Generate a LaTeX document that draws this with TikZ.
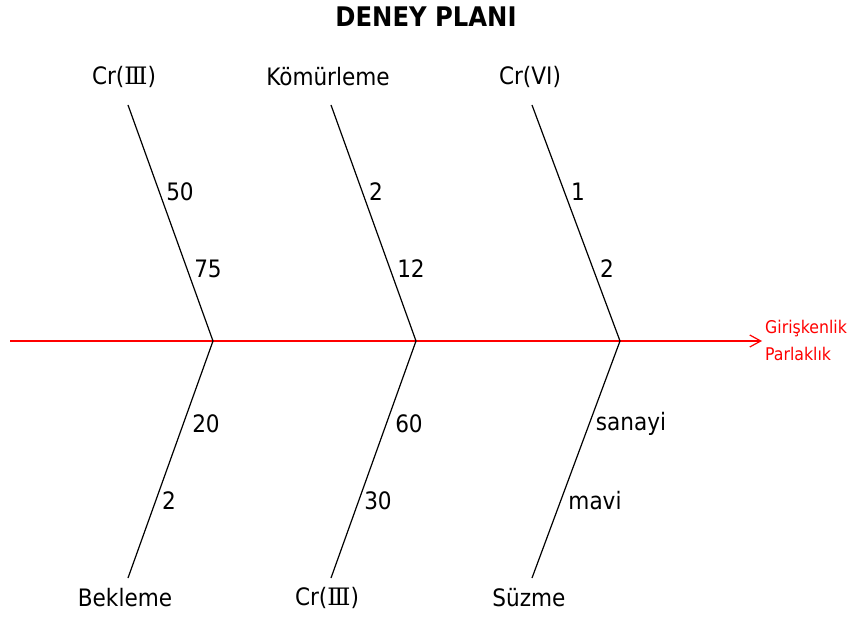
\documentclass[tikz,border=0pt]{standalone}
\usepackage{fontspec}
\setmainfont{DejaVu Sans Condensed}
\newfontfamily\romfont{DejaVu Serif}
\newcommand{\romIII}{{\romfont Ⅲ}}
\usetikzlibrary{arrows.meta}
\begin{document}
\begin{tikzpicture}[x=1pt,y=-1pt,
  lbl/.style={font=\fontsize{24}{28}\selectfont, inner sep=0pt, anchor=center},
  num/.style={font=\fontsize{24}{28}\selectfont, inner sep=0pt, anchor=center},
  bone/.style={draw=black, line width=1.2pt},
  spine/.style={draw=red, line width=1.2pt, -{Straight Barb[length=11pt,width=12pt]}},
  redlbl/.style={font=\fontsize{17.5}{20}\selectfont, text=red, inner sep=0pt, anchor=west}]
\useasboundingbox (0,0) rectangle (851,617);
\node[font=\fontsize{27}{32}\selectfont\bfseries, inner sep=0pt] (title) at (426,17) {DENEY PLANI};
% spine
\coordinate (s0) at (10,341);
\coordinate (s1) at (762,341);
\draw[spine] (s0) -- (s1);
\node[redlbl] (g1) at (765,329) {Girişkenlik};
\node[redlbl] (g2) at (765,354) {Parlaklık};
% joints
\coordinate (j1) at (213,341);
\coordinate (j2) at (416,341);
\coordinate (j3) at (620,341);
% top ends
\coordinate (t1) at (128,105);
\coordinate (t2) at (331,105);
\coordinate (t3) at (532,105);
% bottom ends
\coordinate (b1) at (128,578);
\coordinate (b2) at (331,578);
\coordinate (b3) at (532,578);
\draw[bone] (t1) -- (j1) -- (b1);
\draw[bone] (t2) -- (j2) -- (b2);
\draw[bone] (t3) -- (j3) -- (b3);
% category labels
\node[lbl] (c1) at (124,77) {Cr(\romIII)};
\node[lbl] (c2) at (328,77) {Kömürleme};
\node[lbl] (c3) at (530,77) {Cr(VI)};
\node[lbl] (c4) at (125,598) {Bekleme};
\node[lbl] (c5) at (327,598) {Cr(\romIII)};
\node[lbl] (c6) at (529,598) {Süzme};
% level labels
\node[num] (n1) at (180,192) {50};
\node[num] (n2) at (208,269) {75};
\node[num] (n3) at (376,192) {2};
\node[num] (n4) at (411,269) {12};
\node[num] (n5) at (578,192) {1};
\node[num] (n6) at (607,269) {2};
\node[num] (n7) at (206,424) {20};
\node[num] (n8) at (169,501) {2};
\node[num] (n9) at (409,424) {60};
\node[num] (n10) at (378,501) {30};
\node[num] (n11) at (631,424) {sanayi};
\node[num] (n12) at (595,501) {mavi};
\end{tikzpicture}
\end{document}
